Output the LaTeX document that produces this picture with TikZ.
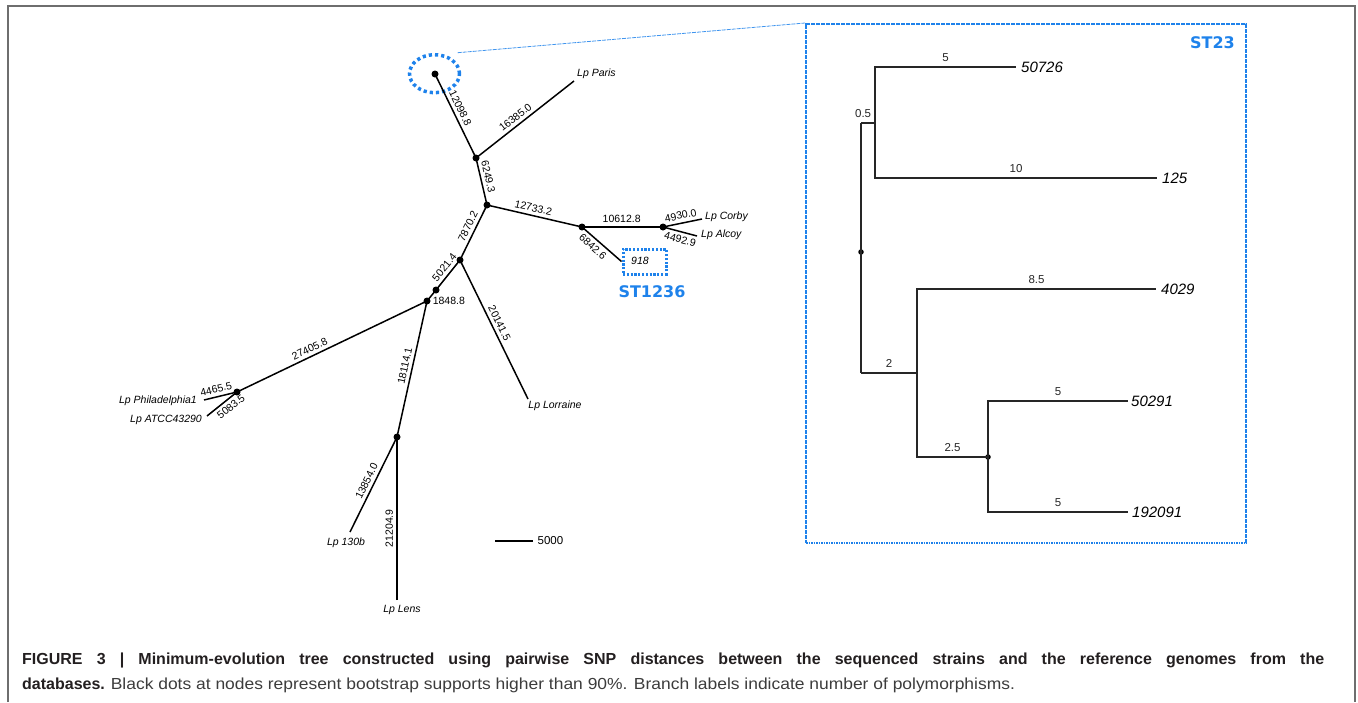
\documentclass[tikz,border=0pt]{standalone}
\usepackage{fontspec}
\setmainfont{Liberation Sans}
\newfontfamily\stfont{DejaVu Sans}
\newfontfamily\capreg{Liberation Sans}[FakeStretch=1.09]
\usetikzlibrary{shapes.geometric}
\definecolor{stblue}{RGB}{30,130,235}
\definecolor{capdark}{RGB}{35,31,32}
\definecolor{capgray}{RGB}{60,60,60}
\definecolor{framegray}{RGB}{110,110,110}
\begin{document}
\begin{tikzpicture}[x=1pt,y=1pt,
  branch/.style={line width=1.5pt, black},
  dot/.style={circle, fill=black, inner sep=0pt, minimum size=7pt},
  sdot/.style={circle, fill=black, inner sep=0pt, minimum size=5.5pt},
  elab/.style={font=\fontsize{10.5}{12}\selectfont, inner sep=3.2pt, sloped},
  flab/.style={font=\fontsize{10.5}{12}\selectfont, inner sep=0pt},
  leaf/.style={font=\fontsize{10.5}{12}\selectfont\itshape, inner sep=0pt},
  rbranch/.style={line width=1.4pt, black!85},
  rlab/.style={font=\fontsize{11.5}{13}\selectfont, inner sep=1pt, above=3.5pt},
  rleaf/.style={font=\fontsize{15}{17}\selectfont\itshape, inner sep=0pt, anchor=west},
  stlab/.style={font=\stfont\bfseries\fontsize{16}{18}\selectfont, text=stblue, inner sep=0pt},
  hlcirc/.style={draw=stblue, line width=3.5pt, dash pattern=on 3.2pt off 3pt, ellipse, inner sep=0pt},
  hlbox/.style={draw=stblue, line width=3pt, dash pattern=on 2.2pt off 1.6pt, inner sep=0pt},
  stbox/.style={draw=stblue, line width=2pt, dash pattern=on 1.6pt off 0.9pt, inner sep=0pt},
  zoomline/.style={draw=stblue!85, line width=0.8pt, dash pattern=on 4pt off 1pt},
  frame/.style={draw=framegray, line width=2pt},
  caption/.style={inner sep=0pt, anchor=base west}
]
\useasboundingbox (0,0) rectangle (1358,-702);
\draw[frame] (8,-702) -- (8,-6) -- (1355,-6) -- (1355,-702);

% ---------------- main tree ----------------
\node[dot] (root) at (435,-74) {};
\node[dot] (nA) at (476,-158) {};
\node[dot] (nB) at (487,-205) {};
\node[dot] (nC) at (582,-227) {};
\node[dot] (nD) at (663,-227) {};
\node[dot] (nE) at (460,-260) {};
\node[dot] (nF) at (436,-290) {};
\node[dot] (nG) at (427,-301) {};
\node[dot] (nH) at (237,-392) {};
\node[dot] (nI) at (397,-437) {};

\coordinate (lParis) at (574,-81);
\coordinate (lCorby) at (702,-219);
\coordinate (lAlcoy) at (697,-236);
\coordinate (lLorraine) at (528,-399);
\coordinate (lPhil) at (204,-400);
\coordinate (lATCC) at (207,-416);
\coordinate (l130b) at (350,-532);
\coordinate (lLens) at (397,-600);

% highlight boxes
\node[hlcirc, minimum width=50pt, minimum height=38pt] (hl) at (434.5,-73.7) {};
\coordinate (hlstart) at (457.7,-52.7);
\node[hlbox, minimum width=43pt, minimum height=25pt] (box918) at (644.5,-261.5) {};
\node[leaf] (t918) at (640,-261) {918};
\node[stlab] (st1236) at (652,-292) {ST1236};

\draw[branch] (root.center) -- (nA.center) node[elab, above, pos=0.45] {12098.8};
\draw[branch] (nA.center) -- (lParis) node[elab, above, pos=0.45] {16385.0};
\draw[branch] (nA.center) -- (nB.center) node[elab, above, pos=0.43] {6249.3};
\draw[branch] (nB.center) -- (nC.center) node[elab, above, pos=0.47] {12733.2};
\draw[branch] (nC.center) -- (nD.center) node[elab, above, pos=0.49] {10612.8};
\draw[branch] (nD.center) -- (lCorby) node[elab, above, pos=0.49] {4930.0};
\draw[branch] (nD.center) -- (lAlcoy) node[elab, below, pos=0.56] {4492.9};
\draw[branch] (nC.center) -- (box918.west) node[elab, below, pos=0.4] {6842.6};
\draw[branch] (nB.center) -- (nE.center) node[elab, above, pos=0.45] {7870.2};
\draw[branch] (nE.center) -- (nF.center) node[elab, above, pos=0.4] {5021.4};
\draw[branch] (nF.center) -- (nG.center) node[flab, anchor=west, pos=1, xshift=5pt] {1848.8};
\draw[branch] (nE.center) -- (lLorraine) node[elab, above, pos=0.48] {20141.5};
\draw[branch] (nG.center) -- (nH.center) node[elab, above, pos=0.6] {27405.8};
\draw[branch] (nH.center) -- (lPhil) node[elab, above, pos=0.58] {4465.5};
\draw[branch] (nH.center) -- (lATCC) node[elab, below, pos=0.36] {5083.5};
\draw[branch] (nG.center) -- (nI.center) node[elab, above, pos=0.49] {18114.1};
\draw[branch] (nI.center) -- (l130b) node[elab, above, pos=0.5] {13854.0};
\draw[branch] (lLens) -- (nI.center) node[elab, above, pos=0.44] {21204.9};

\node[leaf, anchor=west] (tParis) at (577,-74) {Lp Paris};
\node[leaf, anchor=west] (tCorby) at (705,-217) {Lp Corby};
\node[leaf, anchor=west] (tAlcoy) at (701,-235) {Lp Alcoy};
\node[leaf] (tLorraine) at (555,-406) {Lp Lorraine};
\node[leaf, anchor=east] (tPhil) at (197,-401) {Lp Philadelphia1};
\node[leaf, anchor=east] (tATCC) at (202,-420) {Lp ATCC43290};
\node[leaf] (t130b) at (346,-543) {Lp 130b};
\node[leaf] (tLens) at (402,-610) {Lp Lens};

% scale bar
\coordinate (sb1) at (495,-541);
\coordinate (sb2) at (533,-541);
\draw[line width=1.3pt] (sb1) -- (sb2) node[flab, font=\fontsize{11.5}{13}\selectfont, anchor=west, xshift=4pt] (sbl) {5000};

% ---------------- ST23 panel ----------------
\node[stbox, minimum width=440pt, minimum height=519pt] (st23) at (1026,-283.5) {};
\node[stlab, anchor=north east] (st23l) at (1235,-36) {ST23};
\draw[zoomline] (hlstart) -- (st23.north west);

\coordinate (r0) at (861,-123);
\coordinate (r1) at (875,-123);
\coordinate (r2) at (861,-373);
\coordinate (r3) at (917,-373);
\node[sdot] (rdot) at (861,-252) {};
\node[sdot] (rdot2) at (988,-457) {};
\coordinate (e50726) at (1016,-67);
\coordinate (e125) at (1157,-178);
\coordinate (e4029) at (1156,-289);
\coordinate (e50291) at (1128,-401);
\coordinate (e192091) at (1128,-512);

\draw[rbranch] (r0) -- (r1) node[rlab, pos=0.15] {0.5};
\draw[rbranch] (r1) |- (e50726) node[rlab, pos=0.75] {5};
\draw[rbranch] (r1) |- (e125) node[rlab, pos=0.75] {10};
\draw[rbranch] (r0) -- (r2);
\draw[rbranch] (r2) -- (r3) node[rlab, pos=0.5] {2};
\draw[rbranch] (r3) |- (e4029) node[rlab, pos=0.75] {8.5};
\draw[rbranch] (r3) |- (rdot2.center) node[rlab, pos=0.75] {2.5};
\draw[rbranch] (rdot2.center) |- (e50291) node[rlab, pos=0.75] {5};
\draw[rbranch] (rdot2.center) |- (e192091) node[rlab, pos=0.75] {5};

\node[rleaf] (t50726) at (1021,-67) {50726};
\node[rleaf] (t125) at (1162,-178) {125};
\node[rleaf] (t4029) at (1161,-289) {4029};
\node[rleaf] (t50291) at (1131,-401) {50291};
\node[rleaf] (t192091) at (1132,-512) {192091};

% ---------------- caption ----------------
\node[caption, text=capdark, font=\bfseries\fontsize{16}{19}\selectfont] (cap1) at (22,-664) {\hbox to 1302pt{FIGURE 3 | Minimum-evolution tree constructed using pairwise SNP distances between the sequenced strains and the reference genomes from the}};
\node[caption, text=capgray, font=\fontsize{16}{19}\selectfont] (cap2) at (22,-689) {\textcolor{capdark}{\bfseries databases.} {\capreg Black dots at nodes represent bootstrap supports higher than 90\%. Branch labels indicate number of polymorphisms.}};
\end{tikzpicture}
\end{document}
